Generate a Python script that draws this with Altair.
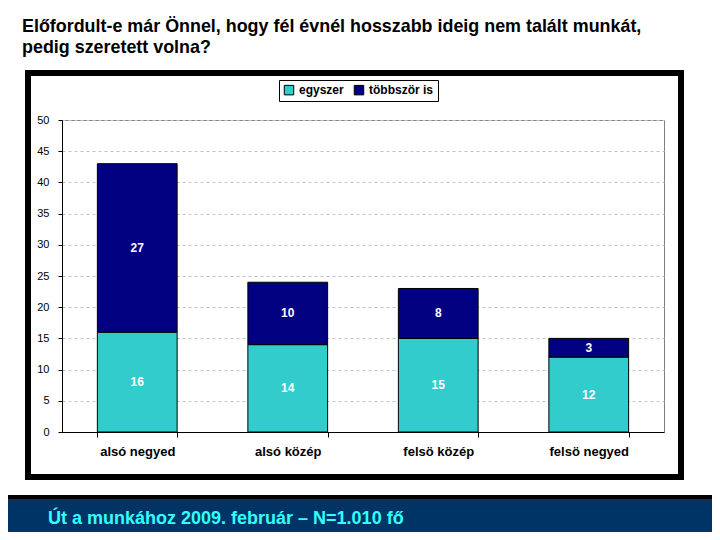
import altair as alt
import pandas as pd

categories = ["alsó negyed", "alsó közép", "felsö közép", "felsö negyed"]
series = ["egyszer", "többször is"]
egyszer = [16, 14, 15, 12]
tobbszor = [27, 10, 8, 3]
y_ticks = [0, 5, 10, 15, 20, 25, 30, 35, 40, 45, 50]

title_lines = ["Előfordult-e már Önnel, hogy fél évnél hosszabb ideig nem talált munkát,",
               "pedig szeretett volna?"]
footer = "Út a munkához 2009. február – N=1.010 fő"

rows = []
for i, c in enumerate(categories):
    rows.append({"cat": c, "series": series[0], "value": egyszer[i], "ord": 0})
    rows.append({"cat": c, "series": series[1], "value": tobbszor[i], "ord": 1})
df = pd.DataFrame(rows)

FONT = "Liberation Sans"
W, H = 602, 312

base = alt.Chart(df)

xscale = alt.Scale(paddingInner=0.47, paddingOuter=0.235)
yscale = alt.Scale(domain=[0, 50], nice=False)

xaxis = alt.Axis(labelAngle=0, labelFont=FONT, labelFontSize=13,
                 labelFontWeight="bold", labelColor="black",
                 labelPadding=8, tickBand="extent", tickSize=5,
                 tickColor="black", domainColor="black", grid=False)
yaxis = alt.Axis(values=y_ticks, labelOverlap=False, labelFont=FONT, labelFontSize=11,
                 labelColor="black", tickSize=4, tickColor="black",
                 domainColor="black", labelPadding=9,
                 gridColor="#C4C4C4", gridDash=[3, 3], gridWidth=1)

bars = base.mark_bar(stroke="black", strokeWidth=1).encode(
    x=alt.X("cat:N", sort=categories, title=None, scale=xscale, axis=xaxis),
    y=alt.Y("value:Q", stack="zero", title=None, scale=yscale, axis=yaxis),
    color=alt.Color("series:N", scale=alt.Scale(domain=series, range=["#33CCCC", "#000080"]),
                    legend=alt.Legend(orient="none", legendX=217, legendY=-40,
                                      direction="horizontal", title=None,
                                      strokeColor="black", fillColor="white",
                                      padding=4, symbolType="square", symbolSize=90,
                                      symbolStrokeColor="black", symbolStrokeWidth=1,
                                      labelFont=FONT, labelFontSize=12,
                                      labelFontWeight="bold", labelColor="black",
                                      columnPadding=8, labelOffset=4)),
    order=alt.Order("ord:Q"),
)

labels = base.transform_stack(
    stack="value", groupby=["cat"], as_=["v0", "v1"], sort=[alt.SortField("ord")]
).transform_calculate(mid="(datum.v0 + datum.v1) / 2").mark_text(
    color="white", font=FONT, fontSize=12, fontWeight="bold", baseline="middle"
).encode(
    x=alt.X("cat:N", sort=categories, title=None, scale=xscale, axis=xaxis),
    y=alt.Y("mid:Q", title=None, scale=yscale, axis=yaxis),
    text=alt.Text("value:Q"),
)

one = alt.Data(values=[{"a": 1}])

frame = alt.Chart(one).mark_rect(filled=False, stroke="black", strokeWidth=6).encode(
    x=alt.value(-34), x2=alt.value(619), y=alt.value(-47), y2=alt.value(357))

band_black = alt.Chart(one).mark_rect(color="black").encode(
    x=alt.value(-54), x2=alt.value(650), y=alt.value(375), y2=alt.value(380))
band_blue = alt.Chart(one).mark_rect(color="#003366").encode(
    x=alt.value(-54), x2=alt.value(650), y=alt.value(379), y2=alt.value(420))

foot = alt.Chart(one).mark_text(align="left", baseline="middle", font=FONT,
                                fontSize=18, fontWeight="bold", color="#33FFFF").encode(
    x=alt.value(-14), y=alt.value(399), text=alt.value(footer))

t1 = alt.Chart(one).mark_text(align="left", baseline="middle", font=FONT,
                              fontSize=17.9, fontWeight="bold", color="black").encode(
    x=alt.value(-40), y=alt.value(-93), text=alt.value(title_lines[0]))
t2 = alt.Chart(one).mark_text(align="left", baseline="middle", font=FONT,
                              fontSize=17.9, fontWeight="bold", color="black").encode(
    x=alt.value(-40), y=alt.value(-72), text=alt.value(title_lines[1]))

chart = alt.layer(frame, bars, labels, band_black, band_blue, foot, t1, t2).properties(
    width=W, height=H,
    autosize=alt.AutoSizeParams(type="none"),
    padding={"left": 54, "top": 112, "right": 48, "bottom": 100},
).configure_view(stroke="#808080", strokeWidth=1)

chart.save("out.html", embed_options={"renderer": "svg", "actions": False})
